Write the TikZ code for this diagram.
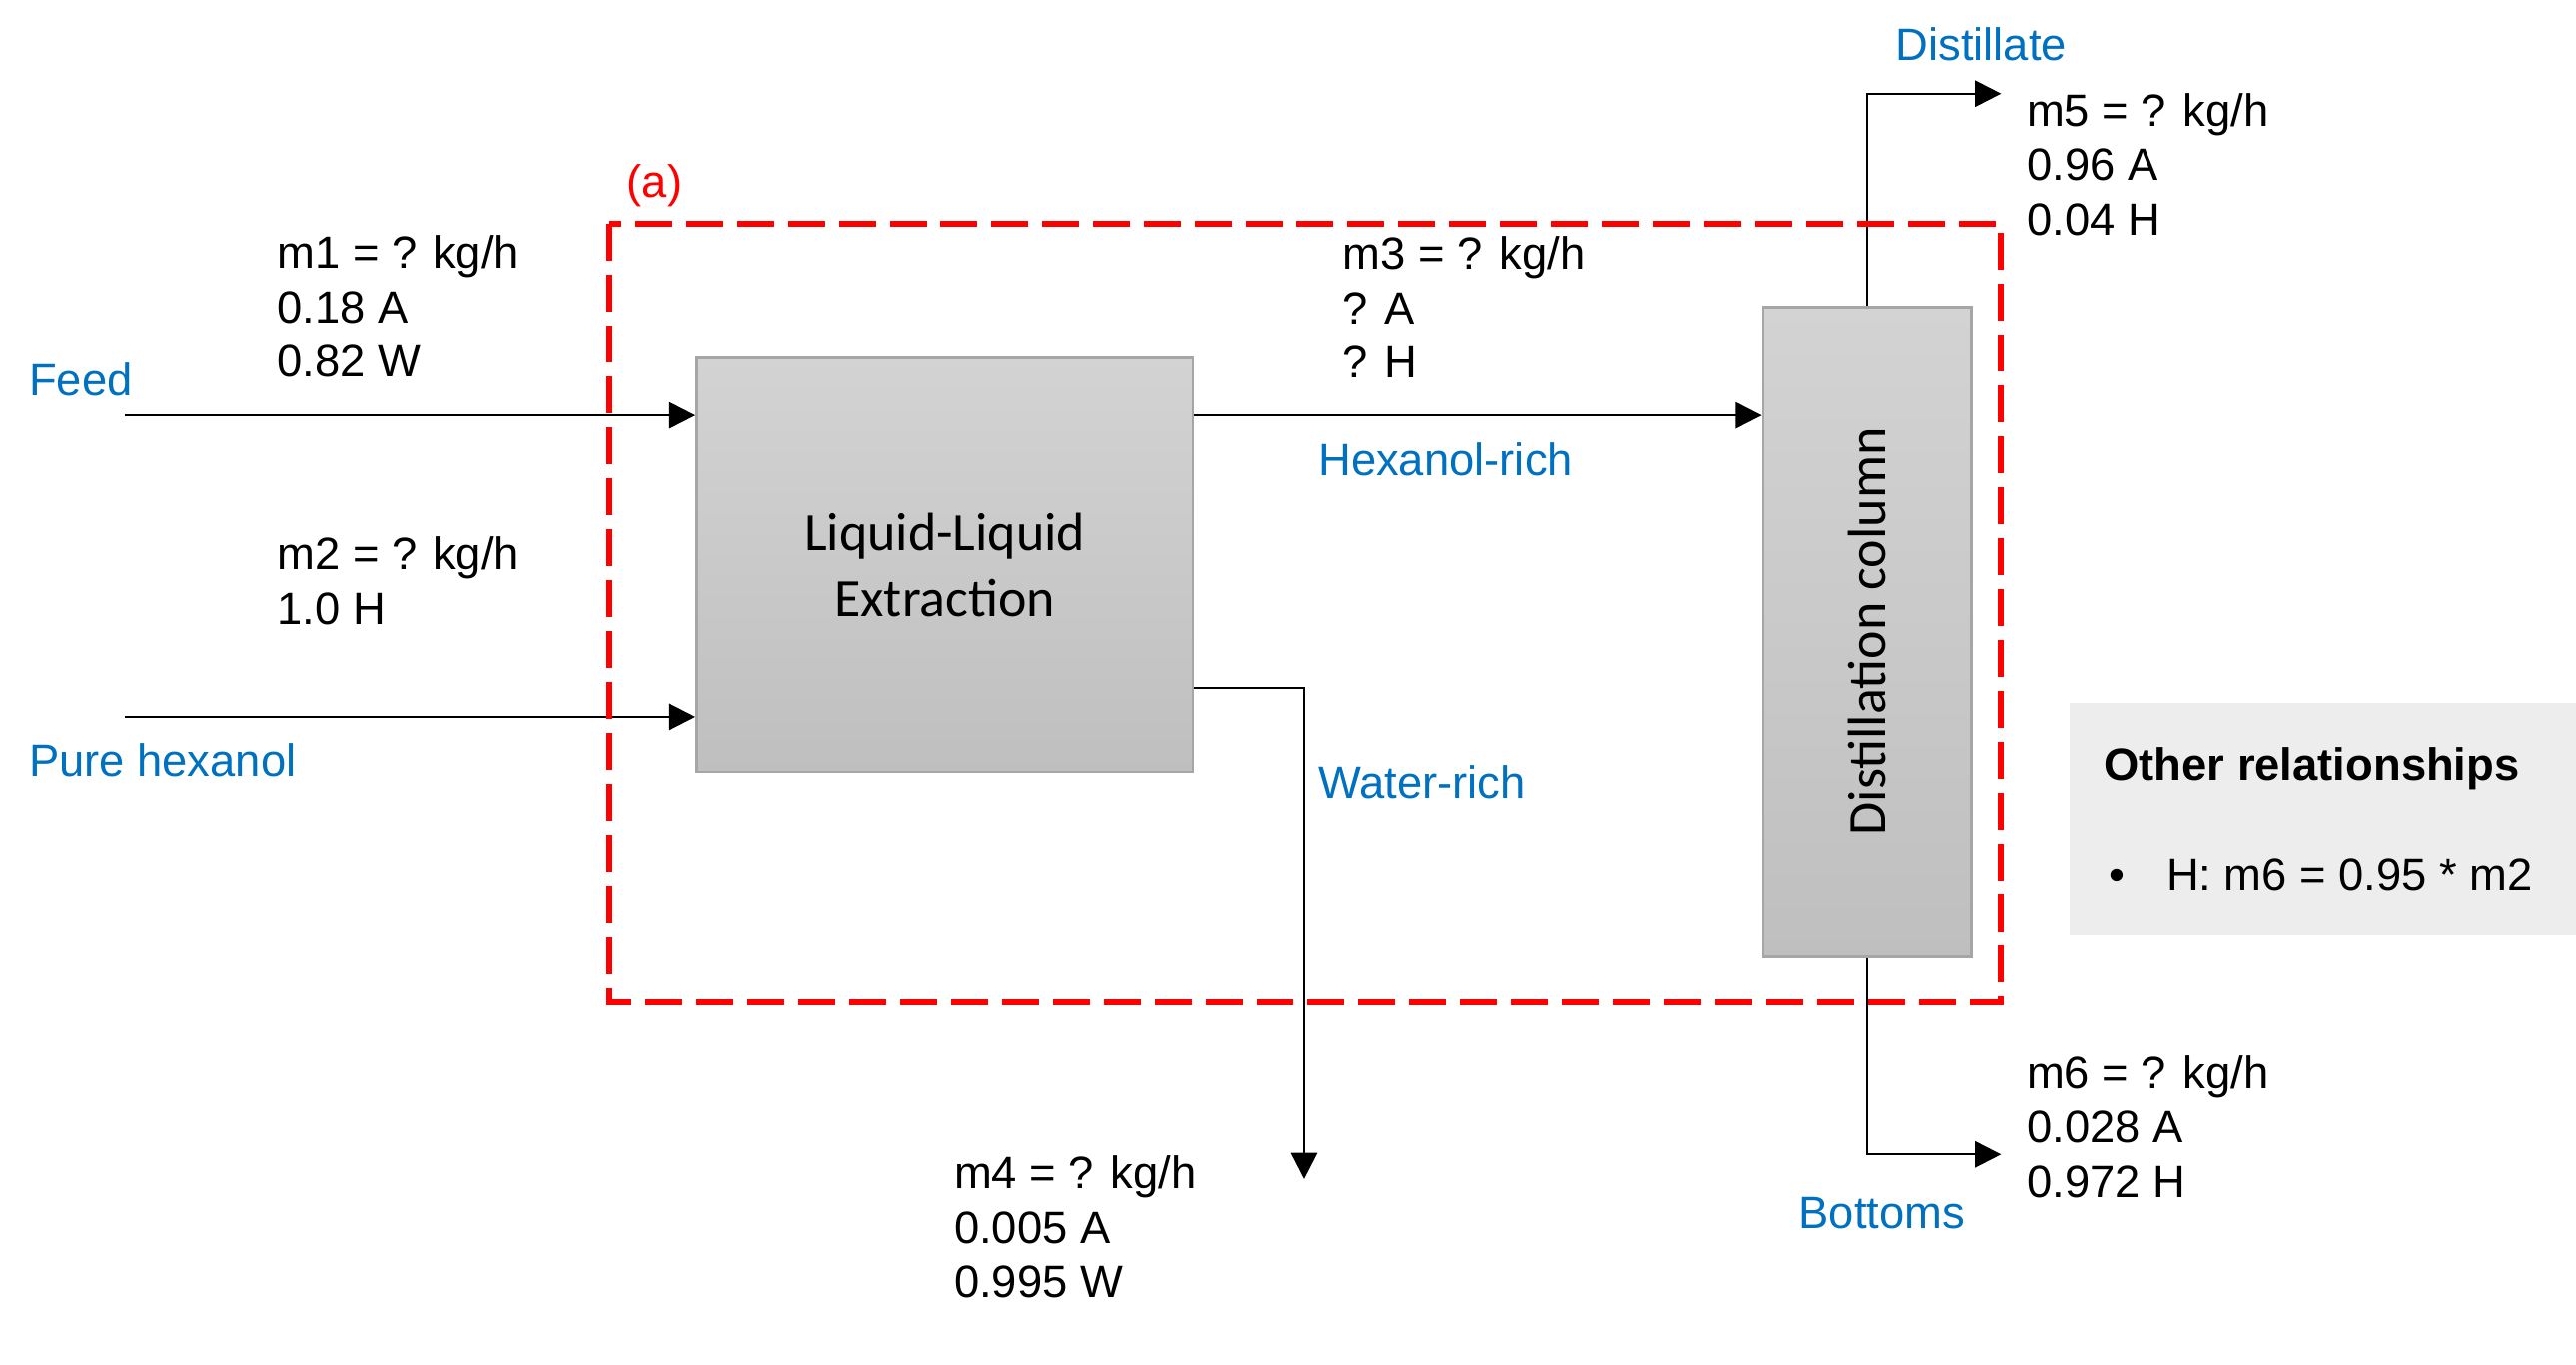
\documentclass[tikz,border=0pt]{standalone}
\usepackage{fontspec}
\setmainfont{Liberation Sans}
\newfontfamily\unitface{Carlito}
\usepackage{graphicx}
\usepackage{xcolor}
\usetikzlibrary{arrows.meta}
\definecolor{flowink}{HTML}{000000}
\definecolor{flowblue}{HTML}{0070C0}
\definecolor{envred}{HTML}{FF0000}
\definecolor{unitedge}{HTML}{A6A6A6}
\definecolor{unittop}{HTML}{D3D3D3}
\definecolor{unitbottom}{HTML}{BFBFBF}
\definecolor{relfill}{HTML}{EDEDED}
\newcommand{\flowfont}{\fontsize{7.85}{9.39}\selectfont}
\newcommand{\unitfont}{\unitface\fontsize{9.33}{11.38}\selectfont}

\begin{document}
\begin{tikzpicture}[x=1cm, y=1cm, >={Triangle[length=0.16cm, width=0.16cm]},
                    every node/.style={flowink, font=\flowfont},
                    unitbox/.style={draw=unitedge, line width=0.45pt, top color=unittop,
                                    bottom color=unitbottom, inner sep=0pt,
                                    font=\unitfont, align=center},
                    flowline/.style={flowink, line width=0.4pt, ->},
                    envelope/.style={envred, line width=1.04pt,
                                     dash pattern=on 0.225cm off 0.085cm},
                    strm/.style={anchor=base west, align=left, inner sep=0pt},
                    streamtag/.style={flowblue, anchor=base west, inner sep=0pt}]

  \useasboundingbox (0,0) rectangle (15.68,8.31);

  %% 兩個操作單元：萃取槽與蒸餾塔
  \node[unitbox, minimum width=3.02cm, minimum height=2.52cm] (lle) at (5.75,4.87)
    {Liquid-Liquid\\Extraction};
  \node[unitbox, minimum width=1.27cm, minimum height=3.95cm] (col) at (11.365,4.465)
    {\rotatebox{90}{Distillation column}};

  %% 進料端與出料端的自由端點
  \coordinate (feedsrc) at (0.76,5.78);
  \coordinate (hexsrc) at (0.76,3.945);
  \coordinate (wout) at (7.94,1.13);
  \coordinate (distout) at (12.18,7.74);
  \coordinate (botout) at (12.18,1.28);

  %% 物流線
  \draw[flowline] (feedsrc) -- (feedsrc -| lle.west);
  \draw[flowline] (hexsrc) -- (hexsrc -| lle.west);
  \draw[flowline] (lle.east |- feedsrc) -- (col.west |- feedsrc);
  \draw[flowline] (lle.east |- 0,4.12) -| (wout);
  \draw[flowline] (col.north) |- (distout);
  \draw[flowline] (col.south) |- (botout);

  %% 系統邊界 (a)
  \draw[envelope] (3.71,6.95) rectangle (12.18,2.21);
  \node[envred, anchor=base west, inner sep=0pt] (envtag) at (3.81,7.11) {(a)};

  %% 各物流名稱
  \node[streamtag] (feedtag) at (0.17,5.90) {Feed};
  \node[streamtag] (hextag) at (0.17,3.58) {Pure hexanol};
  \node[streamtag] (richtag) at (8.02,5.41) {Hexanol-rich};
  \node[streamtag] (watertag) at (8.02,3.45) {Water-rich};
  \node[streamtag] (disttag) at (11.53,7.94) {Distillate};
  \node[streamtag] (bottag) at (10.94,0.83) {Bottoms};

  %% 各物流的流量與組成（錨點在最後一行的基線）
  \node[strm] (m1lbl) at (1.68,6.015) {m1 = ? kg/h\\0.18 A\\0.82 W};
  \node[strm] (m2lbl) at (1.68,4.51) {m2 = ? kg/h\\1.0 H};
  \node[strm] (m3lbl) at (8.17,6.01) {m3 = ? kg/h\\? A\\? H};
  \node[strm] (m4lbl) at (5.80,0.41) {m4 = ? kg/h\\0.005 A\\0.995 W};
  \node[strm] (m5lbl) at (12.33,6.88) {m5 = ? kg/h\\0.96 A\\0.04 H};
  \node[strm] (m6lbl) at (12.33,1.02) {m6 = ? kg/h\\0.028 A\\0.972 H};

  %% 其他關係式
  \node[fill=relfill, minimum width=3.08cm, minimum height=1.41cm, inner sep=0pt]
    (relbox) at (14.14,3.325) {};
  \node[anchor=base west, inner sep=0pt, font=\flowfont\bfseries] (reltitle)
    at (12.80,3.56) {Other relationships};
  \node[anchor=base west, inner sep=0pt] (relbullet) at (12.83,2.89) {•};
  \node[anchor=base west, inner sep=0pt] (relrule) at (13.18,2.89) {H: m6 = 0.95 * m2};

\end{tikzpicture}
\end{document}
